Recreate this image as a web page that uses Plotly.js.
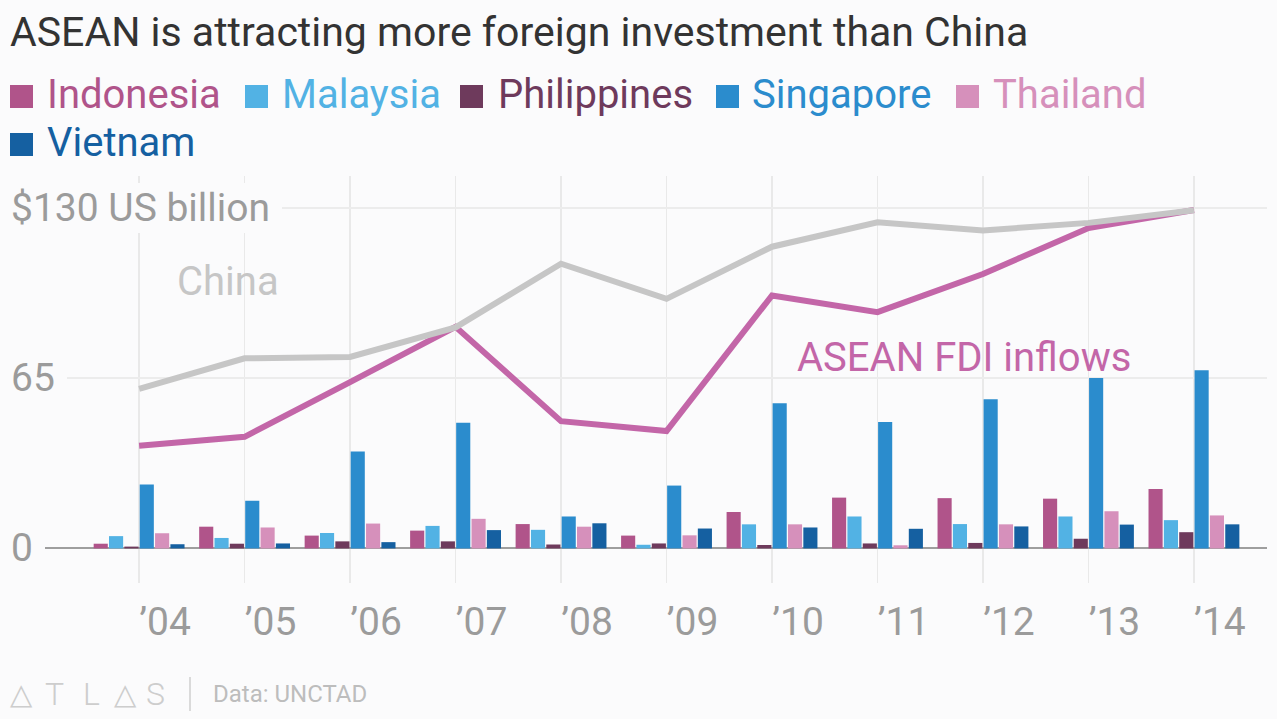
<!DOCTYPE html>
<html>
<head>
<meta charset="utf-8">
<script src="https://cdn.plot.ly/plotly-3.0.1.min.js"></script>
<style>
  html, body { margin: 0; padding: 0; background: #fbfbfc; }
  #chart { width: 1277px; height: 719px; }
</style>
</head>
<body>
<div id="chart"></div>
<script>
// ---- data (US$ billion, FDI inflows) ----
const years = [2004, 2005, 2006, 2007, 2008, 2009, 2010, 2011, 2012, 2013, 2014];
const yearLabels = ["’04", "’05", "’06", "’07", "’08", "’09", "’10", "’11", "’12", "’13", "’14"];
const indonesia   = [1.8, 8.3, 4.9, 6.8, 9.3, 4.9, 13.9, 19.4, 19.2, 19.0, 22.7];
const malaysia    = [4.7, 4.0, 5.9, 8.6, 7.1, 1.4, 9.2, 12.2, 9.3, 12.2, 10.8];
const philippines = [0.7, 1.8, 2.7, 2.7, 1.5, 1.9, 1.3, 1.9, 2.1, 3.7, 6.2];
const singapore   = [24.4, 18.2, 37.0, 48.0, 12.2, 24.0, 55.4, 48.3, 57.0, 65.1, 68.0];
const thailand    = [5.8, 8.0, 9.5, 11.3, 8.3, 5.0, 9.2, 1.2, 9.2, 14.2, 12.6];
const vietnam     = [1.6, 1.9, 2.4, 7.0, 9.6, 7.6, 8.0, 7.5, 8.4, 9.1, 9.2];
const aseanTotal  = [39.2, 42.6, 63.5, 84.6, 48.6, 44.8, 96.6, 90.2, 104.8, 122.3, 129.2];
const chinaTotal  = [60.9, 72.6, 73.1, 84.4, 108.7, 95.3, 115.2, 124.5, 121.4, 124.3, 129.1];
const yTickVals   = [0, 65, 130];
const yTickLabels = ["0", "65", "$130 US billion"];
const countryNames = ["Indonesia", "Malaysia", "Philippines", "Singapore", "Thailand", "Vietnam"];

// ---- styles ----
const BG = "#fbfbfc";
const FONT = "Roboto, 'Open Sans', sans-serif";
const colors = ["#b0548a", "#52b2e4", "#6e3a5c", "#2b8ccd", "#d690bb", "#1560a1"];
const seriesValues = [indonesia, malaysia, philippines, singapore, thailand, vietnam];

const W = 1277, H = 719, ML = 10, MR = 10, MT = 176, MB = 136;
const PW = W - ML - MR, PH = H - MT - MB;
const px2x = px => (px - ML) / PW;
const py2y = py => (H - MB - py) / PH;

const traces = countryNames.map((name, i) => ({
  type: "bar",
  name: name,
  x: years,
  y: seriesValues[i],
  marker: { color: colors[i], line: { width: 0 } },
  hoverinfo: "skip"
}));

traces.push({
  type: "scatter", mode: "lines", name: "ASEAN FDI inflows",
  x: years, y: aseanTotal,
  line: { color: "#c366a8", width: 6 },
  hoverinfo: "skip"
});
traces.push({
  type: "scatter", mode: "lines", name: "China",
  x: years, y: chinaTotal,
  line: { color: "#c6c6c6", width: 6 },
  hoverinfo: "skip"
});

// legend layout (pixel positions)
const legendPos = [
  { sq: 10,  tx: 47,  row: 0 },
  { sq: 245, tx: 282, row: 0 },
  { sq: 460, tx: 498, row: 0 },
  { sq: 716, tx: 752, row: 0 },
  { sq: 956, tx: 993, row: 0 },
  { sq: 10,  tx: 47,  row: 1 }
];
const rowBase = [108, 156];

const shapes = [];
const annotations = [];

countryNames.forEach((name, i) => {
  const p = legendPos[i];
  const base = rowBase[p.row];
  shapes.push({
    type: "rect", xref: "paper", yref: "paper",
    x0: px2x(p.sq), x1: px2x(p.sq + 23),
    y0: py2y(base), y1: py2y(base - 23),
    fillcolor: colors[i], line: { width: 0 }, layer: "above"
  });
  annotations.push({
    xref: "paper", yref: "paper",
    x: px2x(p.tx), y: py2y(base - 14),
    xanchor: "left", yanchor: "middle",
    text: name, showarrow: false,
    borderpad: 0, borderwidth: 0,
    font: { family: FONT, size: 40, color: colors[i] }
  });
});

// y tick labels with background mask over grid lines
yTickVals.forEach((v, i) => {
  annotations.push({
    xref: "paper", yref: "y",
    x: 0, y: v, xanchor: "left", yanchor: "middle",
    xshift: -1,
    text: yTickLabels[i] + "\u00A0",
    showarrow: false, bgcolor: BG, borderpad: 2, borderwidth: 0,
    font: { family: FONT, size: 39, color: "#9b9b9b" }
  });
});

// series labels
annotations.push({
  xref: "paper", yref: "paper", x: px2x(175), y: py2y(281),
  xanchor: "left", yanchor: "middle", text: "China", showarrow: false,
  font: { family: FONT, size: 40, color: "#c6c6c6" }
});
annotations.push({
  xref: "paper", yref: "paper", x: px2x(795), y: py2y(357),
  xanchor: "left", yanchor: "middle", text: "ASEAN FDI inflows", showarrow: false,
  font: { family: FONT, size: 40, color: "#c366a8" }
});

// footer
const logoLetters = ["△", "T", "L", "△", "S"];
const logoX = [21, 54, 91, 125, 155];
logoLetters.forEach((ch, i) => {
  annotations.push({
    xref: "paper", yref: "paper", x: px2x(logoX[i]), y: py2y(694),
    xanchor: "center", yanchor: "middle", text: ch, showarrow: false,
    font: { family: ch === "△" ? "DejaVu Sans" : FONT, size: ch === "△" ? 29 : 32, color: "#cdcdcd", weight: 300 }
  });
});
shapes.push({
  type: "line", xref: "paper", yref: "paper",
  x0: px2x(190), x1: px2x(190), y0: py2y(677), y1: py2y(711),
  line: { color: "#cfcfcf", width: 1.5 }
});
annotations.push({
  xref: "paper", yref: "paper", x: px2x(211), y: py2y(694),
  xanchor: "left", yanchor: "middle", text: "Data: UNCTAD", showarrow: false,
  font: { family: FONT, size: 24, color: "#bdbdbd" }
});

const layout = {
  width: W, height: H,
  margin: { l: ML, r: MR, t: MT, b: MB, pad: 0 },
  paper_bgcolor: BG, plot_bgcolor: BG,
  showlegend: false,
  barmode: "group", bargap: 0.127, bargroupgap: 0.08,
  title: {
    text: "ASEAN is attracting more foreign investment than China",
    xref: "container", yref: "container",
    x: 10 / W, xanchor: "left",
    y: 1 - 32 / H, yanchor: "middle",
    font: { family: FONT, size: 41, color: "#333333" }
  },
  xaxis: {
    range: [2004 - 129 / 105.4, 2014 + 73 / 105.4],
    tickvals: years, ticktext: yearLabels,
    showgrid: true, gridcolor: "#e9e9e9", gridwidth: 1.5,
    zeroline: false, showline: false, ticks: "",
    ticklabelshift: 26, ticklabelstandoff: 12,
    tickfont: { family: FONT, size: 39, color: "#9b9b9b" },
    fixedrange: true
  },
  yaxis: {
    range: [-13.2, 142.2],
    tickvals: yTickVals, showticklabels: false,
    showgrid: true, gridcolor: "#ececec", gridwidth: 2,
    zeroline: true, zerolinecolor: "#9e9e9e", zerolinewidth: 2,
    showline: false, ticks: "",
    fixedrange: true
  },
  shapes: shapes,
  annotations: annotations
};

Plotly.newPlot("chart", traces, layout, { staticPlot: true, displayModeBar: false });
</script>
</body>
</html>
